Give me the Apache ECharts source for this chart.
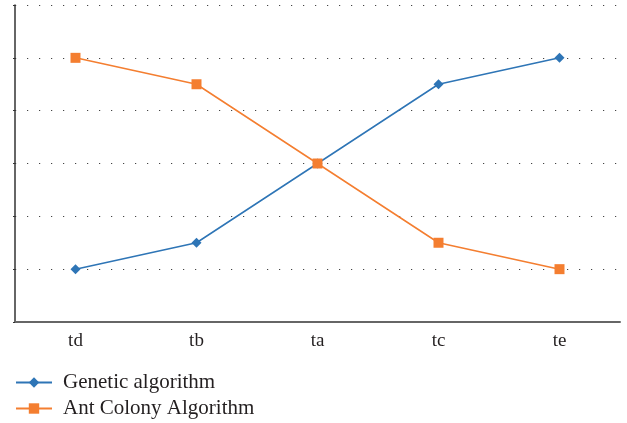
<!DOCTYPE html>
<html>
<head>
<meta charset="utf-8">
<script src="https://cdn.jsdelivr.net/npm/echarts@6/dist/echarts.min.js"></script>
<style>
html,body{margin:0;padding:0;background:#fff;}
#chart{width:627px;height:423px;}
</style>
</head>
<body>
<div id="chart"></div>
<script>
// Categories along the x axis
const categories = ['td', 'tb', 'ta', 'tc', 'te'];
// Series values
const geneticValues = [1, 1.5, 3, 4.5, 5];
const antColonyValues = [5, 4.5, 3, 1.5, 1];
const seriesNames = ['Genetic algorithm', 'Ant Colony Algorithm'];

const serif = '"Liberation Serif", "DejaVu Serif", serif';
const blue = '#2e75b6';
const orange = '#f47e30';

// one legend block per row, stacked under the plot
function legendRow(name, top) {
  return {
    left: 15,
    top: top,
    padding: 0,
    itemWidth: 36,
    itemHeight: 13,
    textStyle: { fontFamily: serif, fontSize: 21, color: '#231f20', padding: [0, 0, 0, 6] },
    data: [name]
  };
}

const chart = echarts.init(document.getElementById('chart'));
chart.setOption({
  animation: false,
  grid: { left: 15, right: 7, top: 5, bottom: 101 },
  legend: [legendRow(seriesNames[0], 372), legendRow(seriesNames[1], 398)],
  xAxis: {
    type: 'category',
    data: categories,
    boundaryGap: true,
    axisLine: { lineStyle: { color: '#666', width: 2 } },
    axisTick: { show: false },
    axisLabel: { fontFamily: serif, fontSize: 19, color: '#231f20', margin: 10 },
    splitLine: { show: false }
  },
  yAxis: {
    type: 'value',
    min: 0,
    max: 6,
    interval: 1,
    axisLine: { show: true, lineStyle: { color: '#333', width: 1.5 } },
    axisTick: { show: true, length: 2, lineStyle: { color: '#333' } },
    axisLabel: { show: false },
    splitLine: { show: true, lineStyle: { color: '#444', width: 1.2, type: [1.2, 10.8], dashOffset: -12 } }
  },
  series: [
    {
      name: seriesNames[0],
      type: 'line',
      data: geneticValues,
      symbol: 'diamond',
      symbolSize: 10,
      itemStyle: { color: blue },
      lineStyle: { color: blue, width: 1.5 }
    },
    {
      name: seriesNames[1],
      type: 'line',
      data: antColonyValues,
      symbol: 'rect',
      symbolSize: 10,
      itemStyle: { color: orange },
      lineStyle: { color: orange, width: 1.5 }
    }
  ]
});
</script>
</body>
</html>
